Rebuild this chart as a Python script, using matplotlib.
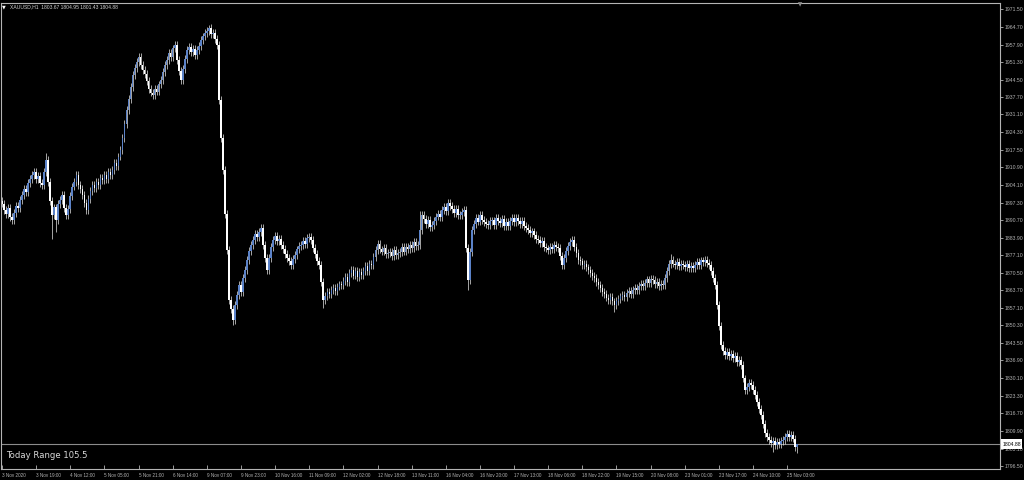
import matplotlib.pyplot as plt
from matplotlib.patches import Rectangle

# hourly closes, XAUUSD H1 (open = previous close)
closes = [
    1897.0, 1894.5, 1893.0, 1895.2, 1891.8, 1890.7, 1893.5, 1896.0, 1895.1, 1898.4,
    1900.3, 1902.6, 1901.4, 1904.8, 1906.5, 1907.9, 1909.2, 1906.3, 1907.5, 1905.0,
    1904.1, 1909.0, 1913.7, 1905.2, 1898.0, 1892.6, 1895.5, 1890.8, 1896.9, 1898.5,
    1900.3, 1895.4, 1892.6, 1895.0, 1899.8, 1903.5, 1905.2, 1907.9, 1904.0, 1902.5,
    1900.3, 1897.1, 1894.5, 1898.6, 1901.9, 1904.1, 1902.8, 1905.4, 1904.2, 1906.9,
    1906.0, 1907.8, 1906.5, 1909.1, 1908.0, 1909.8, 1912.4, 1911.2, 1915.0, 1917.5,
    1922.0, 1927.6, 1932.8, 1936.9, 1941.5, 1946.2, 1949.0, 1951.2, 1953.0, 1950.2,
    1948.1, 1946.5, 1943.8, 1941.0, 1939.5, 1938.6, 1940.8, 1939.9, 1942.6, 1944.3,
    1947.5, 1950.1, 1952.0, 1954.5, 1953.2, 1956.4, 1957.7, 1952.0, 1947.8, 1944.3,
    1948.6, 1952.5, 1955.8, 1957.0, 1955.1, 1956.3, 1953.9, 1955.8, 1957.2, 1959.6,
    1961.0, 1962.4, 1963.0, 1964.2, 1961.8, 1962.5, 1959.9, 1957.7, 1936.6, 1922.0,
    1909.8, 1893.0, 1879.2, 1860.0, 1856.5, 1852.4, 1858.0, 1861.9, 1865.8, 1863.0,
    1868.4, 1871.6, 1875.4, 1878.8, 1881.2, 1883.0, 1885.5, 1884.1, 1886.0, 1887.6,
    1881.0, 1876.2, 1871.5, 1876.0, 1880.3, 1883.0, 1884.5, 1882.6, 1883.4, 1881.1,
    1879.5, 1877.8, 1876.0, 1874.9, 1873.5, 1875.8, 1877.2, 1879.4, 1880.6, 1881.1,
    1882.8, 1881.5, 1883.9, 1884.2, 1883.0, 1880.1, 1877.6, 1875.0, 1873.5, 1866.8,
    1860.0, 1861.5, 1863.2, 1862.5, 1863.9, 1864.8, 1863.5, 1865.2, 1866.0, 1865.8,
    1867.2, 1868.9, 1867.0, 1870.4, 1871.5, 1869.4, 1871.2, 1868.9, 1870.8, 1869.6,
    1871.0, 1873.0, 1871.2, 1873.8, 1873.5, 1876.5, 1879.2, 1881.6, 1879.4, 1878.6,
    1880.0, 1877.6, 1878.0, 1878.5, 1876.9, 1879.2, 1877.4, 1878.0, 1878.4, 1880.2,
    1878.6, 1880.5, 1879.6, 1881.2, 1880.0, 1882.2, 1880.8, 1881.1, 1887.0, 1892.6,
    1891.0, 1889.2, 1890.8, 1887.9, 1888.8, 1890.4, 1892.0, 1893.0, 1891.9, 1894.5,
    1895.8, 1894.2, 1897.2, 1895.9, 1895.0, 1893.2, 1894.8, 1892.5, 1892.6, 1893.8,
    1894.5, 1880.0, 1867.7, 1878.5, 1886.9, 1889.0, 1891.5, 1890.1, 1892.6, 1890.8,
    1890.0, 1889.0, 1888.8, 1890.3, 1890.5, 1888.9, 1891.3, 1890.2, 1889.6, 1891.2,
    1888.3, 1889.9, 1888.5, 1890.4, 1891.6, 1890.0, 1891.5, 1890.4, 1889.2, 1890.2,
    1888.4, 1887.6, 1886.9, 1885.6, 1886.3, 1884.8, 1883.5, 1883.0, 1881.8, 1882.6,
    1880.5, 1879.8, 1879.2, 1880.4, 1879.6, 1881.0, 1880.2, 1880.0, 1877.0, 1873.5,
    1876.0, 1878.8, 1880.6, 1882.2, 1883.0, 1880.4, 1877.9, 1875.4, 1874.8, 1873.6,
    1874.0, 1872.5, 1871.5, 1870.4, 1869.2, 1868.5, 1866.9, 1865.8, 1864.5, 1863.0,
    1862.2, 1861.0, 1860.0, 1861.2, 1859.5, 1858.1, 1859.6, 1860.5, 1861.4, 1862.0,
    1861.2, 1862.8, 1863.5, 1862.2, 1863.9, 1864.8, 1863.7, 1865.3, 1866.2, 1865.4,
    1866.5, 1867.9, 1866.4, 1868.2, 1867.7, 1866.0, 1867.0, 1865.3, 1866.3, 1865.8,
    1868.5, 1871.2, 1873.8, 1875.4, 1874.0, 1873.5, 1874.6, 1872.9, 1874.0, 1873.5,
    1872.5, 1873.9, 1872.3, 1873.0, 1872.3, 1873.4, 1874.5, 1873.5, 1875.2, 1874.6,
    1875.4, 1874.2, 1873.5, 1871.0, 1868.6, 1865.8, 1858.0, 1850.0, 1842.8, 1840.5,
    1839.0, 1840.2, 1838.5, 1839.3, 1837.8, 1838.6, 1836.4, 1837.1, 1835.2, 1830.0,
    1825.6, 1826.8, 1828.4, 1827.5, 1825.5, 1823.7, 1821.0, 1818.4, 1816.0, 1812.5,
    1809.0, 1807.5, 1806.4, 1805.2, 1806.0, 1804.5, 1805.8, 1804.9, 1806.2, 1806.4,
    1807.5, 1808.6, 1807.4, 1808.3, 1807.0, 1803.67, 1804.88,
]
first_open = 1898.0
wick = 1.5
# bars whose high / low stick out further than usual
long_highs = {22: 1916.3, 103: 1965.2, 208: 1894.0, 222: 1898.8, 333: 1877.5, 396: 1804.95}
long_lows = {25: 1883.5, 27: 1886.0, 115: 1850.3, 160: 1857.0, 232: 1863.9, 305: 1855.5,
             384: 1801.8, 396: 1801.43}

y_ticks = [1971.50, 1964.70, 1957.90, 1951.30, 1944.50, 1937.70, 1931.10, 1924.30, 1917.50,
           1910.90, 1904.10, 1897.30, 1890.70, 1883.90, 1877.10, 1870.50, 1863.70, 1857.10,
           1850.30, 1843.50, 1836.90, 1830.10, 1823.30, 1816.70, 1809.90, 1803.10, 1796.50]
x_labels = ['3 Nov 2020', '3 Nov 19:00', '4 Nov 12:00', '5 Nov 05:00', '5 Nov 21:00',
            '6 Nov 14:00', '9 Nov 07:00', '9 Nov 23:00', '10 Nov 16:00', '11 Nov 09:00',
            '12 Nov 02:00', '12 Nov 18:00', '13 Nov 11:00', '16 Nov 04:00', '16 Nov 20:00',
            '17 Nov 13:00', '18 Nov 06:00', '18 Nov 22:00', '19 Nov 15:00', '20 Nov 08:00',
            '23 Nov 01:00', '23 Nov 17:00', '24 Nov 10:00', '25 Nov 03:00']
label_step = 17
last_price = 1804.88
title = 'XAUUSD,H1  1803.67 1804.95 1801.43 1804.88'
range_text = 'Today Range 105.5'

grey = '#b4b4b4'
bull = '#5b82c8'
small = 'Liberation Sans'

opens = [first_open] + closes[:-1]
xs = list(range(len(closes)))
highs = [long_highs.get(i, max(o, c) + wick) for i, (o, c) in enumerate(zip(opens, closes))]
lows = [long_lows.get(i, min(o, c) - wick) for i, (o, c) in enumerate(zip(opens, closes))]

fig = plt.figure(figsize=(10.24, 4.8), dpi=100, facecolor='black')
ax = fig.add_axes([0.5 / 1024, 11 / 480, 999.5 / 1024, 466 / 480], facecolor='black')

ax.vlines(xs, lows, highs, color='#e8e8e8', lw=0.5, zorder=1)
bottoms = [min(o, c) for o, c in zip(opens, closes)]
heights = [max(abs(c - o), 0.4) for o, c in zip(opens, closes)]
colors = [bull if c >= o else 'white' for o, c in zip(opens, closes)]
ax.bar(xs, heights, bottom=bottoms, width=0.8, color=colors, lw=0, zorder=2)

ax.axhline(last_price, color='#8c8c8c', lw=0.8, zorder=0)

ax.set_xlim(-0.75, 497.0)
ax.set_ylim(1795.32, 1973.8)

for s in ax.spines.values():
    s.set_color(grey)
    s.set_linewidth(0.8)

ax.yaxis.tick_right()
ax.set_yticks(y_ticks)
ax.set_yticklabels([f'{v:.2f}' for v in y_ticks], family=small, fontsize=3.7, color=grey)
ax.tick_params(axis='y', length=2, width=0.6, color=grey, pad=1.5)

ax.set_xticks([i * label_step for i in range(len(x_labels))])
ax.set_xticklabels(x_labels, family=small, fontsize=3.3, color=grey, ha='left')
ax.tick_params(axis='x', direction='in', length=3, width=0.6, color=grey, pad=3)

# current price tag on the price scale
fig.patches.append(Rectangle((1001 / 1024, (480 - 449) / 480), 21 / 1024, 10 / 480,
                             transform=fig.transFigure, facecolor='white', edgecolor='none'))
fig.text(1011.5 / 1024, (480 - 444) / 480, f'{last_price:.2f}', family=small, fontsize=3.7,
         color='black', ha='center', va='center')

fig.text(10 / 1024, (480 - 7) / 480, title, family=small, fontsize=3.6, color='#d0d0d0',
         va='center')
fig.text(4 / 1024, (480 - 7) / 480, '\u25bc', fontsize=3.5, color='white', va='center', ha='center')
fig.text(800 / 1024, (480 - 4.5) / 480, '\u25bc', fontsize=4, color='#8c8c8c', va='center',
         ha='center')
fig.text(6 / 1024, (480 - 456) / 480, range_text, fontsize=6.1, color='#d8d8d8', va='center')

fig.savefig('out.png', dpi=100, facecolor='black')
